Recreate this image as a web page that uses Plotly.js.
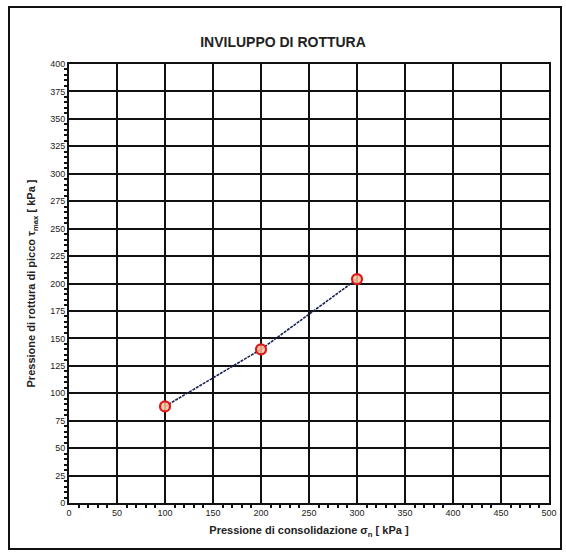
<!DOCTYPE html>
<html>
<head>
<meta charset="utf-8">
<script src="https://cdn.plot.ly/plotly-3.0.1.min.js"></script>
<style>
html,body{margin:0;padding:0;background:#fff;}
#wrap{position:relative;width:566px;height:553px;}
#chart{position:absolute;left:0;top:0;width:566px;height:553px;}
#frame{position:absolute;left:8px;top:6px;width:550px;height:540px;border:2px solid #111;pointer-events:none;}
</style>
</head>
<body>
<div id="wrap"><div id="chart"></div><div id="frame"></div></div>
<script>
// Data
const sigmaN = [100, 200, 300];          // Pressione di consolidazione [kPa]
const tauMax = [88, 140, 204];           // Pressione di rottura di picco [kPa]

const chartTitle = "INVILUPPO DI ROTTURA";
const xTitle = "Pressione di consolidazione σ<sub>n</sub> [ kPa ]";
const yTitle = "Pressione di rottura di picco τ<sub>max</sub> [ kPa ]";

const trace = {
  x: sigmaN,
  y: tauMax,
  type: 'scatter',
  mode: 'lines+markers',
  line: {color: '#1a2350', width: 1.6, dash: '3px,1px'},
  marker: {symbol: 'circle', size: 10, color: 'rgba(255,190,150,0.85)', line: {color: '#d91a1a', width: 2.2}},
  showlegend: false,
  hoverinfo: 'x+y'
};

const axisFont = {family: 'Liberation Sans, Arial, sans-serif', size: 9, color: '#222'};

const layout = {
  width: 566,
  height: 553,
  margin: {l: 69, r: 17, t: 64, b: 50},
  paper_bgcolor: '#fff',
  plot_bgcolor: '#fff',
  font: {family: 'Liberation Sans, Arial, sans-serif', color: '#222'},
  title: {
    text: '<b>' + chartTitle + '</b>',
    font: {family: 'Liberation Sans, Arial, sans-serif', size: 14, color: '#222'},
    x: 0.5, xref: 'container', xanchor: 'center',
    y: 1 - 42/553, yref: 'container', yanchor: 'middle'
  },
  xaxis: {
    range: [0, 500],
    dtick: 50,
    tick0: 0,
    showgrid: true,
    gridcolor: '#111',
    gridwidth: 2,
    showline: true,
    linecolor: '#111',
    linewidth: 2,
    mirror: true,
    zeroline: false,
    ticks: '',
    tickfont: axisFont,
    minor: {dtick: 10, ticks: 'outside', ticklen: 3, tickcolor: '#111', tickwidth: 2, showgrid: false},
    title: {text: '<b>' + xTitle + '</b>', font: {family: 'Liberation Sans, Arial, sans-serif', size: 11, color: '#222'}, standoff: 10},
    fixedrange: true
  },
  yaxis: {
    range: [0, 400],
    dtick: 25,
    tick0: 0,
    showgrid: true,
    gridcolor: '#111',
    gridwidth: 2,
    showline: true,
    linecolor: '#111',
    linewidth: 2,
    mirror: true,
    zeroline: false,
    ticks: '',
    tickfont: axisFont,
    minor: {dtick: 5, ticks: 'outside', ticklen: 3, tickcolor: '#111', tickwidth: 2, showgrid: false},
    title: {text: '<b>' + yTitle + '</b>', font: {family: 'Liberation Sans, Arial, sans-serif', size: 11, color: '#222'}, standoff: 12},
    fixedrange: true
  }
};

Plotly.newPlot('chart', [trace], layout, {displayModeBar: false, staticPlot: true});
</script>
</body>
</html>
